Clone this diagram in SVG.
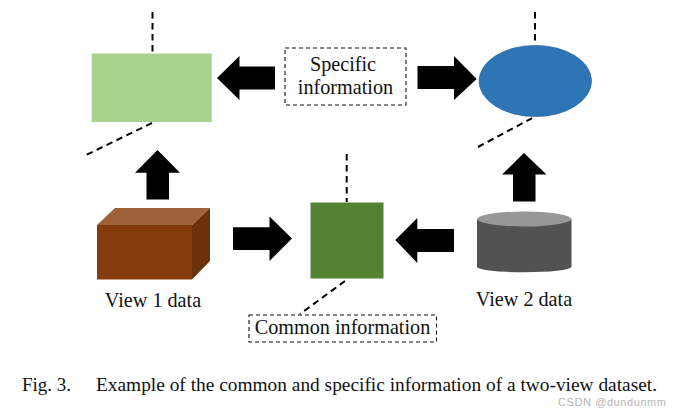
<svg xmlns="http://www.w3.org/2000/svg" width="674" height="412" viewBox="0 0 674 412">
<style>
text{font-family:"Liberation Serif","Times New Roman",serif;fill:#111}
.lbl{font-size:20.2px;text-anchor:middle}
.cap{font-size:19.5px}
.dash{fill:none;stroke:#000;stroke-width:2;stroke-dasharray:6.5 4.5}
.box{fill:#fff;stroke:#111;stroke-width:1.1;stroke-dasharray:4 3}
.arrow{fill:#000}
</style>
<rect width="674" height="412" fill="#fff"/>
<g id="connectors">
<path class="dash" d="M152.5 12V53"/>
<path class="dash" d="M535 12V45"/>
<path class="dash" d="M152 123L86 155"/>
<path class="dash" d="M478 147L536 116"/>
<path class="dash" d="M346.7 154V202"/>
<path class="dash" d="M345 281L300 314"/>
<polygon class="arrow" points="217,78 239.5,56 239.5,66.5 275,66.5 275,89.5 239.5,89.5 239.5,100"/>
<polygon class="arrow" points="476.7,79 454,56 454,66 417.5,66 417.5,89 454,89 454,100"/>
<polygon class="arrow" points="157.5,150 180,172.7 169,172.7 169,199.5 146.5,199.5 146.5,172.7 135,172.7"/>
<polygon class="arrow" points="524,153 546.5,174.5 535.5,174.5 535.5,201.5 513,201.5 513,174.5 502,174.5"/>
<polygon class="arrow" points="292,238.5 269.5,216.5 269.5,227.3 233,227.3 233,250 269.5,250 269.5,261"/>
<polygon class="arrow" points="395.3,240 417.3,218 417.3,229 454,229 454,252 417.3,252 417.3,263"/>
</g>
<g id="view1-specific"><rect x="91.7" y="53.5" width="120" height="68.5" fill="#a9d18e"/></g>
<g id="view2-specific"><ellipse cx="535.3" cy="81" rx="56.2" ry="35.6" fill="#2e75b6" stroke="#2a6399" stroke-width="0.7"/></g>
<g id="common"><rect x="310.5" y="202.5" width="73" height="76" fill="#548235"/></g>
<g id="specific-info">
<rect class="box" x="285" y="48" width="121" height="57"/>
<text class="lbl" x="343" y="71">Specific</text>
<text class="lbl" x="345.5" y="94">information</text>
</g>
<g id="view1-data">
<polygon points="97,225 115,208 210,208 192,225" fill="#9d6239"/>
<polygon points="192,225 210,208 210,261 192,279.5" fill="#6b310a"/>
<rect x="97" y="225" width="95" height="54.5" fill="#843c0c"/>
<text class="lbl" x="153" y="307">View 1 data</text>
</g>
<g id="view2-data">
<path d="M477 219V267A47.3 5.5 0 0 0 571.5 267V219Z" fill="#525252"/>
<ellipse cx="524.2" cy="219" rx="47.3" ry="7.5" fill="#979797"/>
<text class="lbl" x="524" y="306">View 2 data</text>
</g>
<g id="common-info">
<rect class="box" x="249" y="315" width="187.5" height="27"/>
<text class="lbl" x="342.5" y="334">Common information</text>
</g>
<text class="cap" x="22" y="391" textLength="49" lengthAdjust="spacingAndGlyphs">Fig. 3.</text>
<text class="cap" x="96" y="391" textLength="561" lengthAdjust="spacingAndGlyphs">Example of the common and specific information of a two-view dataset.</text>
<text x="558" y="406" textLength="108" style="font-family:'Liberation Sans',sans-serif;font-size:11px;fill:#b5b5b5">CSDN @dundunmm</text>
</svg>
